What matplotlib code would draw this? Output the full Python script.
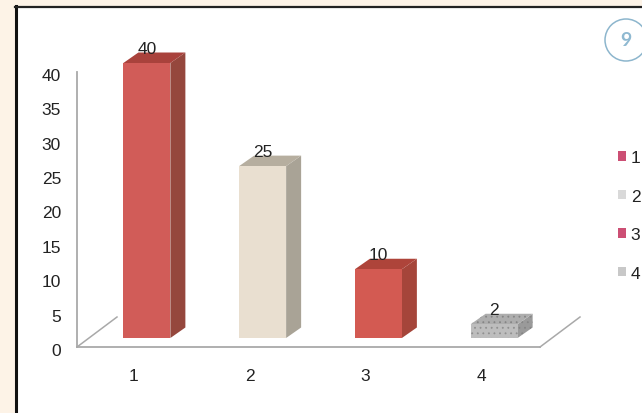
import matplotlib
matplotlib.use("Agg")
import matplotlib.pyplot as plt
from matplotlib.patches import Rectangle, Circle, Patch, Polygon
from matplotlib.lines import Line2D
from matplotlib.transforms import ScaledTranslation

categories = [1, 2, 3, 4]
values = [40, 25, 10, 2]
y_ticks = [0, 5, 10, 15, 20, 25, 30, 35, 40]
legend_labels = ["1", "2", "3", "4"]

front_colors = ["#d15c58", "#e9dfd0", "#d35a52", "#bdbdbd"]
side_colors = ["#95473d", "#a9a396", "#a5453a", "#9a9a9a"]
top_colors = ["#a9423c", "#b6ae9f", "#ae443a", "#adadad"]
legend_colors = ["#cc4f74", "#d9d9d9", "#cc4f74", "#c8c8c8"]

W, H = 642, 414
plt.rcParams["font.family"] = ["Liberation Sans", "DejaVu Sans"]
plt.rcParams["hatch.linewidth"] = 0.6
fig = plt.figure(figsize=(W / 100, H / 100), dpi=100, facecolor="#fdf3e7")

bg = fig.add_axes([0, 0, 1, 1])
bg.set_xlim(0, W)
bg.set_ylim(H, 0)
bg.axis("off")
bg.add_patch(Rectangle((16, 7), W, H, fc="white", ec="none"))
bg.add_line(Line2D([16, 16], [6.5, H], color="#111111", lw=2.2))
bg.add_line(Line2D([15, W], [7.5, 7.5], color="#222222", lw=1.6))
bg.add_patch(Circle((626, 41), 21, fc="white", ec="#8db6cd", lw=1.1, clip_on=True))
bg.text(626, 40.5, "9", color="#8fb9d1", fontsize=14, fontweight="bold",
        ha="center", va="center", family=["Lato", "DejaVu Sans"])

x0, x1, y0, y1 = 77, 540, 348, 73
ax = fig.add_axes([x0 / W, 1 - y0 / H, (x1 - x0) / W, (y0 - y1) / H])
ax.patch.set_alpha(0)
ax.set_xlim(0.5, 4.5)
ax.set_ylim(0, 40)
for s in ("top", "right"):
    ax.spines[s].set_visible(False)
for s in ("left", "bottom"):
    ax.spines[s].set_color("#a9a9a9")
    ax.spines[s].set_linewidth(1.3)
ax.set_xticks(categories)
ax.set_xticklabels([str(c) for c in categories])
ax.set_yticks(y_ticks)
ax.tick_params(axis="both", length=0, labelsize=12.5, labelcolor="#222222")
ax.tick_params(axis="x", pad=15)
ax.tick_params(axis="y", pad=11.5)
shift_down = ScaledTranslation(0, -2 / 100, fig.dpi_scale_trans)
for lab in ax.get_yticklabels():
    lab.set_transform(lab.get_transform() + shift_down)
shift_left = ScaledTranslation(-1 / 100, 0, fig.dpi_scale_trans)
for lab in ax.get_xticklabels():
    lab.set_transform(lab.get_transform() + shift_left)

px_x = 4 / (x1 - x0)
px_y = 40 / (y0 - y1)
dx, dy = 15 * px_x, 10.5 * px_y      # depth of the 3-D extrusion
ox, oy = 12 * px_x, 9 * px_y         # offset of bars from the front floor edge
bw = 47 * px_x

# floor depth lines
for x in (0.5, 4.5):
    ax.add_line(Line2D([x, x + 40 * px_x], [0, 30 * px_y], color="#a9a9a9", lw=1.1, clip_on=False))

for c, v, fc, sc, tc in zip(categories, values, front_colors, side_colors, top_colors):
    cx = c + ox
    l, r = cx - bw / 2, cx + bw / 2
    b, t = oy, oy + v
    hatch = "..." if c == 4 else None
    ax.add_patch(Polygon([(r, b), (r + dx, b + dy), (r + dx, t + dy), (r, t)], closed=True,
                         fc=sc, ec="#858585" if hatch else "none", lw=0, hatch=hatch, clip_on=False, zorder=3))
    ax.add_patch(Polygon([(l, t), (r, t), (r + dx, t + dy), (l + dx, t + dy)], closed=True,
                         fc=tc, ec="#858585" if hatch else "none", lw=0, hatch=hatch, clip_on=False, zorder=3))
    ax.bar(cx, v, width=bw, bottom=oy, color=fc, edgecolor="#909090" if hatch else "none",
           linewidth=0, hatch=hatch, zorder=3, clip_on=False)
    ax.text(cx, v + oy + 15 * px_y, str(v), ha="center", va="center", fontsize=12.5,
            color="#222222", zorder=5, clip_on=False)

handles = [Patch(fc=c, ec="none") for c in legend_colors]
fig.legend(handles, legend_labels, loc="center left", bbox_to_anchor=(618 / W, 1 - 216.5 / H),
           frameon=False, fontsize=12.5, handlelength=0.46, handleheight=0.46, handletextpad=0.28,
           labelspacing=1.36, labelcolor="#222222", borderpad=0, borderaxespad=0)

fig.savefig("out.png", dpi=100, facecolor=fig.get_facecolor())
